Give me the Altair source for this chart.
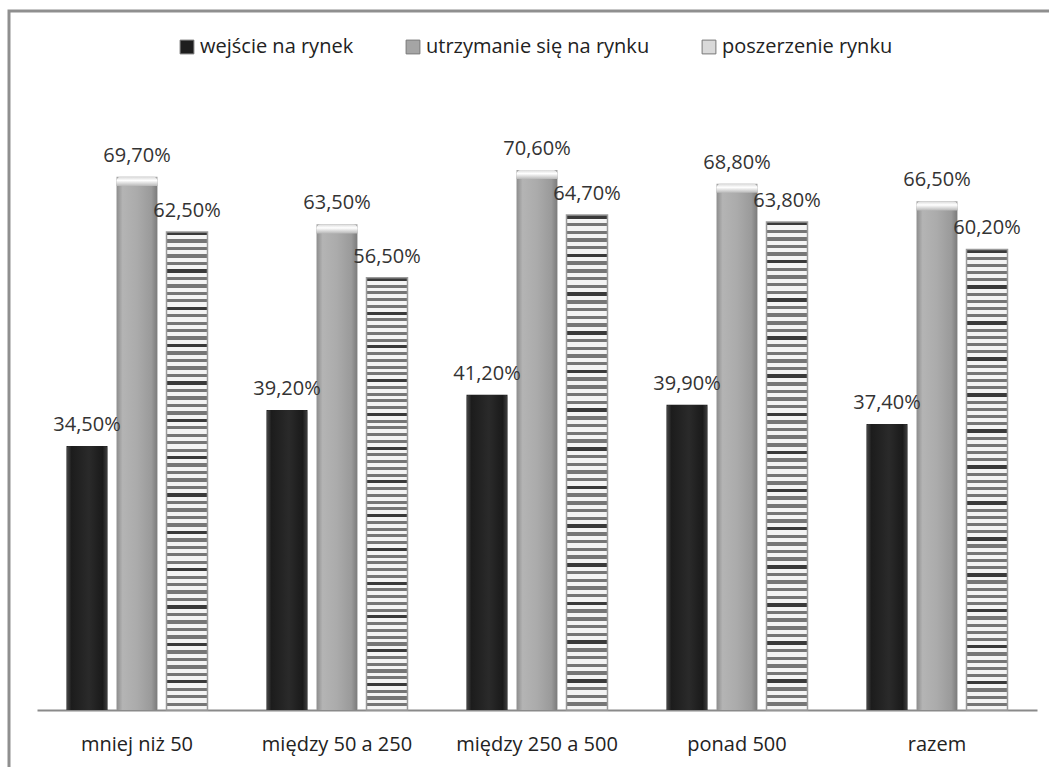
import altair as alt
import pandas as pd

# Company size groups (number of employees) and the three market goals
categories = ["mniej niż 50", "między 50 a  250", "między 250 a 500", "ponad 500", "razem"]
series = ["wejście na rynek", "utrzymanie się na rynku", "poszerzenie rynku"]

wejscie = [34.5, 39.2, 41.2, 39.9, 37.4]
utrzymanie = [69.7, 63.5, 70.6, 68.8, 66.5]
poszerzenie = [62.5, 56.5, 64.7, 63.8, 60.2]

rows = []
for i, cat in enumerate(categories):
    for name, vals in zip(series, [wejscie, utrzymanie, poszerzenie]):
        rows.append({"kategoria": cat, "cel": name, "wartosc": vals[i]})
df = pd.DataFrame(rows)

FONT = "Open Sans"

x_enc = alt.X(
    "kategoria:N",
    sort=categories,
    scale=alt.Scale(paddingInner=0.25, paddingOuter=0.125),
    axis=alt.Axis(
        title=None, labelAngle=0, ticks=False, labelPadding=24,
        labelFontSize=20, labelFont=FONT, labelColor="#222",
        domainColor="#8a8a8a", domainWidth=2,
    ),
)
xoff_enc = alt.XOffset(
    "cel:N", sort=series,
    scale=alt.Scale(domain=series, paddingInner=0.18, paddingOuter=0.09),
)
y_enc = alt.Y("wartosc:Q", scale=alt.Scale(domain=[0, 80]), axis=None)

base = alt.Chart(df).encode(x=x_enc, xOffset=xoff_enc, y=y_enc)

# flat bars that carry the legend
legend_bars = base.mark_bar().encode(
    color=alt.Color(
        "cel:N", sort=series,
        scale=alt.Scale(domain=series, range=["#1e1e1e", "#a5a5a5", "#d9d9d9"]),
        legend=alt.Legend(
            title=None, orient="none", direction="horizontal", columns=3,
            legendX=140, legendY=-61, symbolType="square", symbolSize=190,
            symbolStrokeColor="#777", symbolStrokeWidth=1,
            labelFontSize=20, labelFont=FONT, labelColor="#222", labelLimit=0,
            columnPadding=49, labelOffset=3, padding=0,
        ),
    )
)

# cylinder-like shading for the dark bars
dark_fill = alt.LinearGradient(
    gradient="linear", x1=0, y1=0, x2=1, y2=0,
    stops=[
        alt.GradientStop(offset=0, color="#4a4a4a"),
        alt.GradientStop(offset=0.12, color="#1c1c1c"),
        alt.GradientStop(offset=0.55, color="#2a2a2a"),
        alt.GradientStop(offset=0.88, color="#1a1a1a"),
        alt.GradientStop(offset=1, color="#404040"),
    ],
)
dark_bars = base.mark_bar(fill=dark_fill, cornerRadiusTopLeft=3, cornerRadiusTopRight=3).transform_filter(
    alt.datum.cel == series[0]
)

gray_fill = alt.LinearGradient(
    gradient="linear", x1=0, y1=0, x2=1, y2=0,
    stops=[
        alt.GradientStop(offset=0, color="#8c8c8c"),
        alt.GradientStop(offset=0.15, color="#b4b4b4"),
        alt.GradientStop(offset=0.5, color="#ababab"),
        alt.GradientStop(offset=0.85, color="#9a9a9a"),
        alt.GradientStop(offset=1, color="#7a7a7a"),
    ],
)
gray_bars = base.mark_bar(fill=gray_fill, cornerRadiusTopLeft=4, cornerRadiusTopRight=4).transform_filter(
    alt.datum.cel == series[1]
)

# light cap on the top of the gray bars
gray_caps = (
    alt.Chart(df)
    .transform_filter(alt.datum.cel == series[1])
    .transform_calculate(cap="datum.wartosc - 1.2")
    .mark_bar(
        cornerRadiusTopLeft=4, cornerRadiusTopRight=4,
        fill=alt.LinearGradient(
            gradient="linear", x1=0, y1=0, x2=0, y2=1,
            stops=[
                alt.GradientStop(offset=0, color="#d8d8d8"),
                alt.GradientStop(offset=0.4, color="#ffffff"),
                alt.GradientStop(offset=1, color="#b8b8b8"),
            ],
        ),
    )
    .encode(x=x_enc, xOffset=xoff_enc, y=y_enc, y2="cap:Q")
)

# horizontal stripes for the third series
stripe_stops = []
n_stripes = 64
for k in range(n_stripes):
    a = k / n_stripes
    b = (k + 0.45) / n_stripes
    c = (k + 1) / n_stripes
    line = "#3a3a3a" if k % 5 == 0 else "#767676"
    stripe_stops += [
        alt.GradientStop(offset=a, color=line),
        alt.GradientStop(offset=b, color=line),
        alt.GradientStop(offset=b, color="#f4f4f4"),
        alt.GradientStop(offset=c, color="#f4f4f4"),
    ]
striped_fill = alt.LinearGradient(gradient="linear", x1=0, y1=0, x2=0, y2=1, stops=stripe_stops)
striped_bars = base.mark_bar(
    fill=striped_fill, stroke="#9a9a9a", strokeWidth=1.5
).transform_filter(alt.datum.cel == series[2])

labels = (
    base.transform_calculate(
        etykieta="replace(format(datum.wartosc, '.2f'), '.', ',') + '%'"
    )
    .mark_text(baseline="alphabetic", dy=-15, fontSize=20, font=FONT, color="#333")
    .encode(text="etykieta:N")
)

frame = (
    alt.Chart(pd.DataFrame({"r": [0]}))
    .mark_rect(fill=None, stroke="#8f8f8f", strokeWidth=3)
    .encode(
        x=alt.value(-28), x2=alt.value(1030),
        y=alt.value(-87), y2=alt.value(680),
    )
)

chart = (
    alt.layer(frame, legend_bars, dark_bars, gray_bars, gray_caps, striped_bars, labels)
    .properties(
        width=1000, height=612,
        autosize=alt.AutoSizeParams(type="none"),
        padding={"left": 37, "top": 98, "right": 12, "bottom": 57},
        background="white",
    )
    .configure_view(stroke=None)
)

chart.save("out.html", embed_options={"renderer": "svg", "actions": False})
